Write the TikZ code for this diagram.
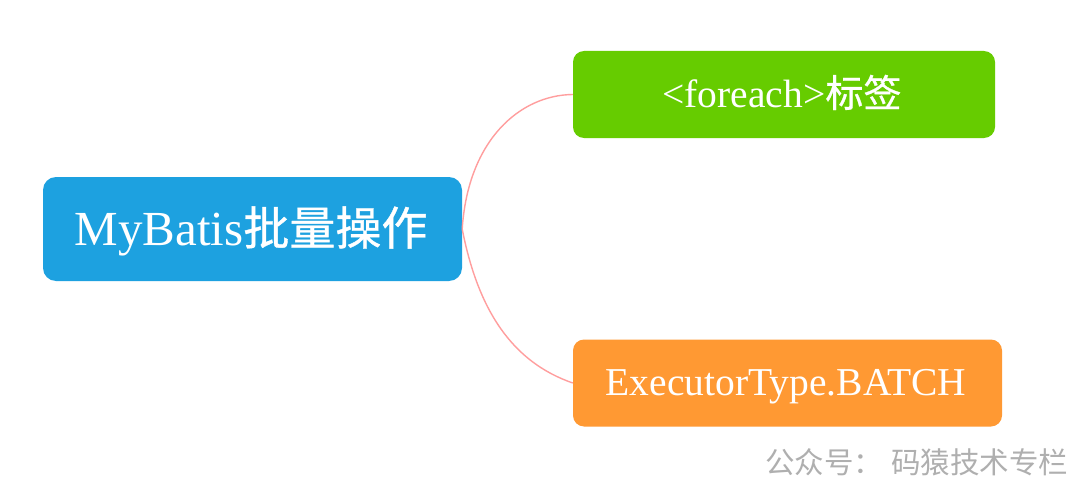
\documentclass[tikz,border=0pt]{standalone}
\usepackage{fontspec}
\setmainfont{Liberation Serif}
\newfontfamily\cjk{Noto Sans CJK SC}
\newfontfamily\cjkb{Noto Sans CJK SC}[FakeBold=0.8]
\definecolor{mainblue}{RGB}{29,161,224}
\definecolor{leafgreen}{RGB}{102,204,0}
\definecolor{leaforange}{RGB}{255,153,51}
\definecolor{linkpink}{RGB}{255,158,158}
\definecolor{markgray}{RGB}{175,175,175}
\tikzset{
  box/.style={draw=none, rounded corners=13pt, inner sep=0pt},
  boxtext/.style={text=white, anchor=base, inner sep=0pt},
  link/.style={draw=linkpink, line width=1.4pt},
}
\begin{document}
\begin{tikzpicture}[x=1pt,y=-1pt]
\useasboundingbox (0,0) rectangle (1080,487);
\fill[white] (0,0) rectangle (1080,487);
% boxes
\node[box, fill=mainblue, minimum width=419pt, minimum height=104pt] (main) at (252.5,229) {};
\node[box, fill=leafgreen, minimum width=422pt, minimum height=87pt, rounded corners=11pt] (green) at (784,94.5) {};
\node[box, fill=leaforange, minimum width=429pt, minimum height=87pt, rounded corners=11pt] (orange) at (787.5,383) {};
% texts
\node[boxtext, font=\fontsize{49}{52}\selectfont] (maintext) at (251,245) {MyBatis{\cjkb\fontsize{46}{52}\selectfont 批量操作}};
\node[boxtext, font=\fontsize{39.5}{42}\selectfont] (greentext) at (782,107) {<foreach>{\cjkb\fontsize{38}{42}\selectfont 标签}};
\node[boxtext, font=\fontsize{39.5}{42}\selectfont] (orangetext) at (786,395) {ExecutorType.BATCH};
% connectors
\draw[link] (main.east) .. controls (468,140) and (520,95) .. (green.west);
\draw[link] (main.east) .. controls (478,310) and (512,362) .. (orange.west);
% watermark
\node[anchor=west, inner sep=0pt, text=markgray, font=\cjk\fontsize{29.5}{32}\selectfont] (mark) at (765,462) {公众号：\hspace{8pt}码猿技术专栏};
\end{tikzpicture}
\end{document}
